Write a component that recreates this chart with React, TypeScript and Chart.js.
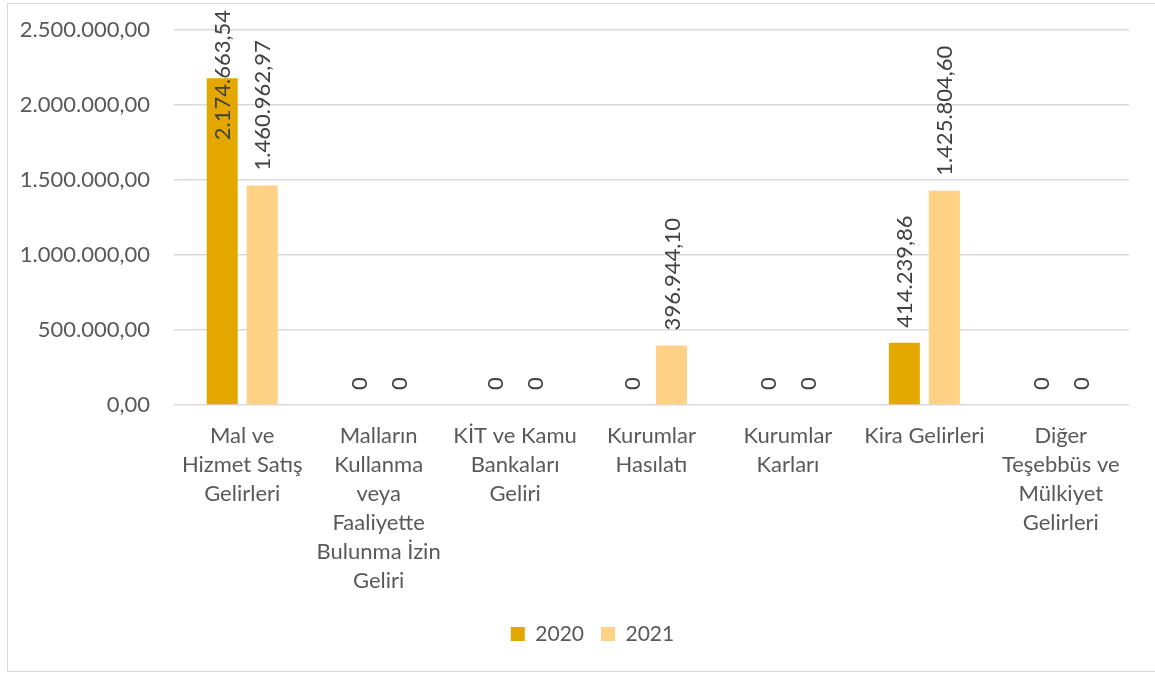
import React, { useEffect, useRef } from "react";
import { Chart, registerables } from "chart.js";

Chart.register(...registerables);

const FONT = "Lato, 'Open Sans', sans-serif";

const categories: string[][] = [
  ["Mal ve", "Hizmet Satış", "Gelirleri"],
  ["Malların", "Kullanma", "veya", "Faaliyette", "Bulunma İzin", "Geliri"],
  ["KİT ve Kamu", "Bankaları", "Geliri"],
  ["Kurumlar", "Hasılatı"],
  ["Kurumlar", "Karları"],
  ["Kira Gelirleri"],
  ["Diğer", "Teşebbüs ve", "Mülkiyet", "Gelirleri"],
];

const seriesNames = ["2020", "2021"];
const values2020 = [2174663.54, 0, 0, 0, 0, 414239.86, 0];
const values2021 = [1460962.97, 0, 0, 396944.1, 0, 1425804.6, 0];

const yMin = 0;
const yMax = 2500000;
const yStep = 500000;

const color2020 = "#E3A700";
const color2021 = "#FFD184";

function formatTR(v: number, decimals: number): string {
  const fixed = Math.abs(v).toFixed(decimals);
  const parts = fixed.split(".");
  const intF = parts[0].replace(/\B(?=(\d{3})+(?!\d))/g, ".");
  return (v < 0 ? "-" : "") + intF + (parts[1] ? "," + parts[1] : "");
}

function labelText(v: number): string {
  return v === 0 ? "0" : formatTR(v, 2);
}

const framePlugin = {
  id: "frame",
  beforeDraw(chart: any) {
    const ctx = chart.ctx;
    ctx.save();
    ctx.fillStyle = "#ffffff";
    ctx.fillRect(0, 0, chart.width, chart.height);
    ctx.strokeStyle = "#D9D9D9";
    ctx.lineWidth = 1;
    ctx.strokeRect(7.5, 3.5, 1170, 668);
    ctx.restore();
  },
};

const legendShiftPlugin = {
  id: "legendShift",
  afterLayout(chart: any) {
    const lg = chart.legend;
    if (lg) {
      lg.left += 28;
      lg.right += 28;
    }
  },
};

const barLabelPlugin = {
  id: "barLabels",
  afterDatasetsDraw(chart: any) {
    const ctx = chart.ctx;
    ctx.save();
    ctx.font = `22px ${FONT}`;
    ctx.fillStyle = "#404040";
    ctx.textAlign = "left";
    ctx.textBaseline = "middle";
    chart.data.datasets.forEach((ds: any, di: number) => {
      const meta = chart.getDatasetMeta(di);
      meta.data.forEach((bar: any, i: number) => {
        const v = ds.data[i] as number;
        const text = labelText(v);
        const w = ctx.measureText(text).width;
        let start = bar.y - 15;
        const minTop = 10;
        if (start - w < minTop) start = minTop + w;
        ctx.save();
        ctx.translate(bar.x + 1, start);
        ctx.rotate(-Math.PI / 2);
        ctx.fillText(text, 0, 0);
        ctx.restore();
      });
    });
    ctx.restore();
  },
};

export default function App() {
  const canvasRef = useRef<HTMLCanvasElement | null>(null);

  useEffect(() => {
    if (!canvasRef.current) return;
    const chart = new Chart(canvasRef.current, {
      type: "bar",
      data: {
        labels: categories,
        datasets: [
          {
            label: seriesNames[0],
            data: values2020,
            backgroundColor: color2020,
            categoryPercentage: 0.5865,
            barPercentage: 0.775,
          },
          {
            label: seriesNames[1],
            data: values2021,
            backgroundColor: color2021,
            categoryPercentage: 0.5865,
            barPercentage: 0.775,
          },
        ],
      },
      options: {
        responsive: false,
        animation: false,
        layout: { padding: { left: 0, right: 26, top: 29.5, bottom: 18.5 } },
        plugins: {
          legend: {
            position: "bottom",
            labels: {
              boxWidth: 14,
              boxHeight: 14,
              padding: 17,
              color: "#595959",
              font: { family: FONT, size: 21 },
            },
          },
          tooltip: { enabled: false },
        },
        scales: {
          x: {
            grid: { display: false },
            border: { display: false },
            ticks: {
              autoSkip: false,
              maxRotation: 0,
              minRotation: 0,
              padding: 8.5,
              color: "#595959",
              font: { family: FONT, size: 22, lineHeight: 29 / 22 },
            },
            afterFit(scale: any) {
              scale.height = 201.5;
            },
          },
          y: {
            min: yMin,
            max: yMax,
            border: { display: false },
            grid: { color: "#D9D9D9", lineWidth: 1.5, drawTicks: false },
            ticks: {
              stepSize: yStep,
              padding: 24,
              color: "#595959",
              font: { family: FONT, size: 22 },
              callback: (v: any) => formatTR(Number(v), 2),
            },
            afterFit(scale: any) {
              scale.width = 174;
              scale.paddingTop = 0;
              scale.paddingBottom = 0;
            },
          },
        },
      },
      plugins: [framePlugin, legendShiftPlugin, barLabelPlugin],
    });
    return () => chart.destroy();
  }, []);

  return (
    <canvas
      ref={canvasRef}
      width={1155}
      height={673}
      style={{ position: "fixed", left: 0, top: 0, width: 1155, height: 673, display: "block" }}
    />
  );
}
